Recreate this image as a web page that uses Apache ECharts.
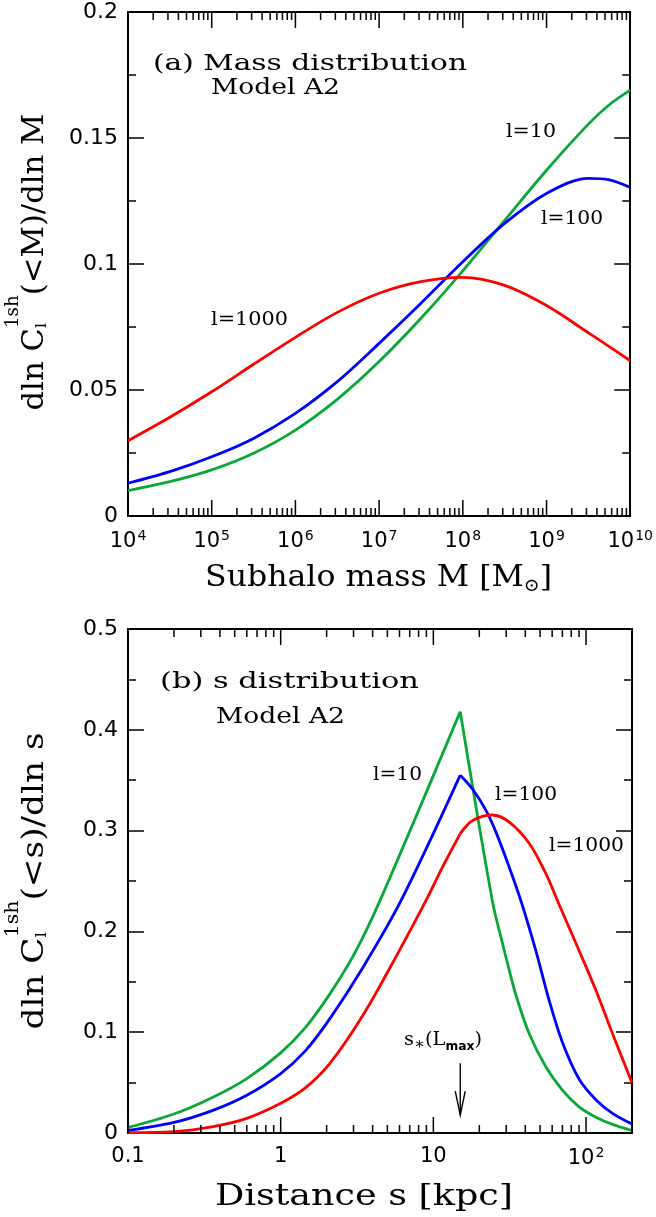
<!DOCTYPE html>
<html>
<head>
<meta charset="utf-8">
<script src="https://cdn.jsdelivr.net/npm/echarts@6/dist/echarts.min.js"></script>
<style>
html,body{margin:0;padding:0;background:#fff;}
#chart{width:656px;height:1217px;}
</style>
</head>
<body>
<div id="chart"></div>
<script>
// ---------- Data ----------
// Panel (a): subhalo mass M [Msun]
const massM = [1e4, 3.162e4, 1e5, 3.162e5, 1e6, 3.162e6, 1e7, 3.162e7, 1e8, 3.162e8, 1e9, 3.162e9, 5.623e9, 1e10];
const massL10   = [0.0101, 0.0136, 0.0183, 0.0249, 0.0341, 0.0463, 0.0613, 0.0785, 0.0973, 0.1173, 0.1372, 0.1555, 0.1632, 0.1690];
const massL100  = [0.0130, 0.0176, 0.0235, 0.0308, 0.0407, 0.0533, 0.0685, 0.0844, 0.1009, 0.1161, 0.1280, 0.1340, 0.1334, 0.1304];
const massL1000 = [0.0299, 0.0392, 0.0493, 0.0602, 0.0709, 0.0808, 0.0884, 0.0930, 0.0947, 0.0915, 0.0835, 0.0727, 0.0672, 0.0616];

// Panel (b): distance s [kpc]
const distS10   = [0.1, 0.2, 0.36, 0.6, 1.0, 1.45, 2.1, 3.08, 4.44, 15, 24.3, 28.4, 31.4, 34.7, 42.4, 54.5, 70, 90, 116, 149, 200];
const distL10   = [0.0055, 0.0188, 0.0355, 0.054, 0.0795, 0.1045, 0.138, 0.1795, 0.2295, 0.418, 0.231, 0.1878, 0.1615, 0.137, 0.0987, 0.0657, 0.0426, 0.026, 0.0157, 0.0085, 0.0025];
const distS100  = [0.1, 0.2, 0.36, 0.6, 1.0, 1.45, 2.1, 3.45, 6.15, 15, 18.1, 22.1, 25.7, 31.4, 37.4, 46.9, 57.3, 70, 90, 116, 149, 200];
const distL100  = [0.0025, 0.0105, 0.0225, 0.0375, 0.059, 0.0815, 0.1135, 0.164, 0.2307, 0.355, 0.341, 0.320, 0.2985, 0.2637, 0.2307, 0.181, 0.1317, 0.0900, 0.0535, 0.0330, 0.0195, 0.0089];
const distS1000 = [0.1, 0.2, 0.36, 0.6, 1.0, 1.45, 2.1, 3.45, 5.7, 8.96, 11.5, 15, 18.1, 24.3, 31.4, 42.4, 54.5, 64.9, 90, 116, 149, 200];
const distL1000 = [0.0003, 0.0013, 0.0063, 0.0145, 0.0294, 0.0447, 0.069, 0.1165, 0.175, 0.2307, 0.264, 0.297, 0.310, 0.3155, 0.3085, 0.2875, 0.2575, 0.2307, 0.181, 0.1416, 0.0987, 0.0498];

// s_*(L_max) marker and its arrow extent (data units)
const sStar = 15;
const arrowY = [0.0693, 0.0178];

// Axis ranges / ticks
const massRange = [1e4, 1e10];
const distRange = [0.1, 200];
const yRangeA = [0, 0.2], yStepA = 0.05;
const yRangeB = [0, 0.5], yStepB = 0.1;

// ---------- Helpers ----------
const SERIF = '"DejaVu Serif"';
const TICKFONT = 'DejaVu Sans';
const RED = '#ff0000', BLUE = '#0000ff', GREEN = '#0aa83a';
const SMOOTH = 0.33;

const mctx = document.createElement('canvas').getContext('2d');
function measure(t, font) { mctx.font = font; return mctx.measureText(t).width; }

function composite(o) {
  let cur = 0, prevStart = 0, prevW = 0;
  const items = [];
  o.parts.forEach(p => {
    const fam = p.family || SERIF, weight = p.weight || 'normal';
    const font = weight + ' ' + p.size + 'px ' + fam;
    const w = measure(p.t, font);
    let start;
    if (p.stack) { start = prevStart; cur = Math.max(prevStart + prevW, start + w); prevW = Math.max(prevW, w); }
    else { start = cur; cur = start + w; prevStart = start; prevW = w; }
    items.push({ t: p.t, fam: fam, size: p.size, weight: weight, x: start, dy: p.dy || 0 });
  });
  const W = cur;
  const sx = o.target ? o.target / W : 1;
  const off = o.align === 'center' ? -W / 2 : 0;
  return {
    type: 'group', x: o.x, y: o.y, rotation: o.rotation || 0, scaleX: sx, scaleY: 1, silent: true, z: 10,
    children: items.map(it => ({
      type: 'text', x: it.x + off, y: it.dy, silent: true,
      style: { text: it.t, fontFamily: it.fam.replace(/"/g, ''), fontSize: it.size, fontWeight: it.weight,
        fill: '#000', align: 'left', verticalAlign: 'middle' }
    }))
  };
}

function logTicks(lo, hi) {
  const out = [];
  const e0 = Math.floor(Math.log10(lo) + 1e-9), e1 = Math.ceil(Math.log10(hi) - 1e-9);
  for (let e = e0; e <= e1; e++) {
    for (let k = 1; k <= 9; k++) {
      const v = +(k * Math.pow(10, e)).toPrecision(6);
      if (v >= lo * 0.9999 && v <= hi * 1.0001) out.push([v, k === 1 ? 1 : 0]);
    }
  }
  return out;
}
function tickRender(yMin, yMax) {
  return function (params, api) {
    const v = api.value(0), major = api.value(1) === 1;
    const len = major ? 16 : 8;
    const b = api.coord([v, yMin]), t = api.coord([v, yMax]);
    const st = { stroke: '#000', lineWidth: 1.5 };
    return { type: 'group', children: [
      { type: 'line', shape: { x1: b[0], y1: b[1], x2: b[0], y2: b[1] - len }, style: st },
      { type: 'line', shape: { x1: t[0], y1: t[1], x2: t[0], y2: t[1] + len }, style: st }
    ]};
  };
}
function pairs(xs, ys) { return xs.map((x, i) => [x, ys[i]]); }
function splitAt(xs, ys, s0) {
  const a = [], b = [];
  xs.forEach((x, i) => { if (x <= s0) a.push([x, ys[i]]); if (x >= s0) b.push([x, ys[i]]); });
  return [a, b];
}
function isDecade(v) {
  const l = Math.log10(v), e = Math.round(l);
  return Math.abs(l - e) < 1e-6 ? e : null;
}

const supRich = { sup: { fontSize: 14, fontFamily: TICKFONT, color: '#000', padding: [0, 0, 12, 1] } };

function xAxisCommon(grid, range, pos, showLabels, labelFn) {
  return {
    type: 'log', logBase: 10, gridIndex: grid, position: pos,
    min: range[0], max: range[1], splitNumber: Math.round(Math.log10(range[1] / range[0])),
    axisLine: { show: true, onZero: false, lineStyle: { color: '#000', width: 2 } },
    axisTick: { show: false }, minorTick: { show: false }, splitLine: { show: false },
    axisLabel: showLabels ? {
      show: true, margin: 13, color: '#000', fontFamily: TICKFONT, fontSize: 21,
      formatter: labelFn, rich: supRich, hideOverlap: false
    } : { show: false }
  };
}
function yAxisCommon(grid, range, step, pos, showLabels) {
  return {
    type: 'value', gridIndex: grid, position: pos,
    min: range[0], max: range[1], interval: step,
    axisLine: { show: true, onZero: false, lineStyle: { color: '#000', width: 2 } },
    axisTick: { show: true, inside: true, length: 16, lineStyle: { color: '#000', width: 1.5 } },
    minorTick: { show: true, splitNumber: 2, length: 8, lineStyle: { color: '#000', width: 1.5 } },
    splitLine: { show: false },
    axisLabel: showLabels ? { show: true, margin: 10, color: '#000', fontFamily: TICKFONT, fontSize: 22 } : { show: false }
  };
}

const labelTop = v => { const e = isDecade(v); return e === null ? '' : '10{sup|' + e + '}'; };
const labelBot = v => {
  const e = isDecade(v);
  if (e === null) return '';
  if (e === -1) return '0.1';
  if (e === 0) return '1';
  if (e === 1) return '10';
  return '10{sup|' + e + '}';
};

function lineSeries(data, color, xi, yi) {
  return { type: 'line', data: data, xAxisIndex: xi, yAxisIndex: yi, showSymbol: false, symbol: 'none',
    smooth: SMOOTH, lineStyle: { color: color, width: 2.8 }, itemStyle: { color: color }, silent: true, z: 3 };
}

const seriesList = [];
seriesList.push(lineSeries(pairs(massM, massL10), GREEN, 0, 0));
seriesList.push(lineSeries(pairs(massM, massL100), BLUE, 0, 0));
seriesList.push(lineSeries(pairs(massM, massL1000), RED, 0, 0));
[[distS10, distL10, GREEN], [distS100, distL100, BLUE], [distS1000, distL1000, RED]].forEach(([xs, ys, c]) => {
  const [a, b] = splitAt(xs, ys, sStar);
  seriesList.push(lineSeries(a, c, 2, 2));
  seriesList.push(lineSeries(b, c, 2, 2));
});
seriesList.push({ type: 'custom', xAxisIndex: 0, yAxisIndex: 0, data: logTicks(massRange[0], massRange[1]),
  renderItem: tickRender(yRangeA[0], yRangeA[1]), silent: true, clip: false, z: 5 });
seriesList.push({ type: 'custom', xAxisIndex: 2, yAxisIndex: 2, data: logTicks(distRange[0], distRange[1]),
  renderItem: tickRender(yRangeB[0], yRangeB[1]), silent: true, clip: false, z: 5 });
seriesList.push({ type: 'custom', xAxisIndex: 2, yAxisIndex: 2, data: [[sStar, arrowY[0], arrowY[1]]],
  silent: true, clip: false, z: 6,
  renderItem: function (params, api) {
    const p1 = api.coord([api.value(0), api.value(1)]);
    const p2 = api.coord([api.value(0), api.value(2)]);
    const st = { stroke: '#000', lineWidth: 1.4, fill: null };
    return { type: 'group', children: [
      { type: 'line', shape: { x1: p1[0], y1: p1[1], x2: p2[0], y2: p2[1] }, style: st },
      { type: 'polyline', shape: { points: [[p2[0] - 5, p2[1] - 24], [p2[0], p2[1]], [p2[0] + 5, p2[1] - 24]] }, style: st }
    ]};
  }
});

const ANN = 23, LBL = 19, TTL = 30;
function plain(x, y, t, size, target) { return composite({ x: x, y: y, target: target, parts: [{ t: t, size: size }] }); }

const graphics = [
  plain(153, 64, '(a) Mass distribution', ANN, 314),
  plain(211, 88, 'Model A2', ANN, 129),
  plain(506, 132, 'l=10', LBL, 50),
  plain(541, 219, 'l=100', LBL, 62),
  plain(211, 320, 'l=1000', LBL, 77),
  plain(160, 682, '(b) s distribution', ANN, 259),
  plain(216, 717, 'Model A2', ANN, 129),
  plain(373, 775, 'l=10', LBL, 49),
  plain(495, 795, 'l=100', LBL, 62),
  plain(549, 846, 'l=1000', LBL, 75),
  composite({ x: 404, y: 1040, target: 78, parts: [
    { t: 's', size: LBL }, { t: '∗', size: 16, dy: 5 }, { t: '(L', size: LBL },
    { t: 'max', size: 12, dy: 7, weight: 'bold', family: '"DejaVu Sans"' }, { t: ')', size: LBL }] }),
  composite({ x: 205, y: 578, target: 347, parts: [
    { t: 'Subhalo mass M [M', size: TTL }, { t: '⊙', size: 18, dy: 8 }, { t: ']', size: TTL }] }),
  composite({ x: 215, y: 1197, target: 298, parts: [{ t: 'Distance s [kpc]', size: TTL }] }),
  composite({ x: 35, y: 262, target: 297, align: 'center', rotation: Math.PI / 2, parts: [
    { t: 'dln C', size: TTL }, { t: '1sh', size: 18, dy: -22 }, { t: 'l', size: 15, dy: 7, stack: true },
    { t: '(<M)/dln M', size: TTL }] }),
  composite({ x: 35, y: 881, target: 297, align: 'center', rotation: Math.PI / 2, parts: [
    { t: 'dln C', size: TTL }, { t: '1sh', size: 18, dy: -22 }, { t: 'l', size: 15, dy: 7, stack: true },
    { t: '(<s)/dln s', size: TTL }] })
];

const option = {
  animation: false,
  backgroundColor: '#ffffff',
  grid: [
    { left: 128, right: 24, top: 12, height: 504 },
    { left: 128, right: 24, top: 629, height: 504 }
  ],
  xAxis: [
    xAxisCommon(0, massRange, 'bottom', true, labelTop),
    xAxisCommon(0, massRange, 'top', false),
    xAxisCommon(1, distRange, 'bottom', true, labelBot),
    xAxisCommon(1, distRange, 'top', false)
  ],
  yAxis: [
    yAxisCommon(0, yRangeA, yStepA, 'left', true),
    yAxisCommon(0, yRangeA, yStepA, 'right', false),
    yAxisCommon(1, yRangeB, yStepB, 'left', true),
    yAxisCommon(1, yRangeB, yStepB, 'right', false)
  ],
  series: seriesList,
  graphic: graphics
};

const chart = echarts.init(document.getElementById('chart'), null, { renderer: 'canvas' });
chart.setOption(option);
</script>
</body>
</html>
